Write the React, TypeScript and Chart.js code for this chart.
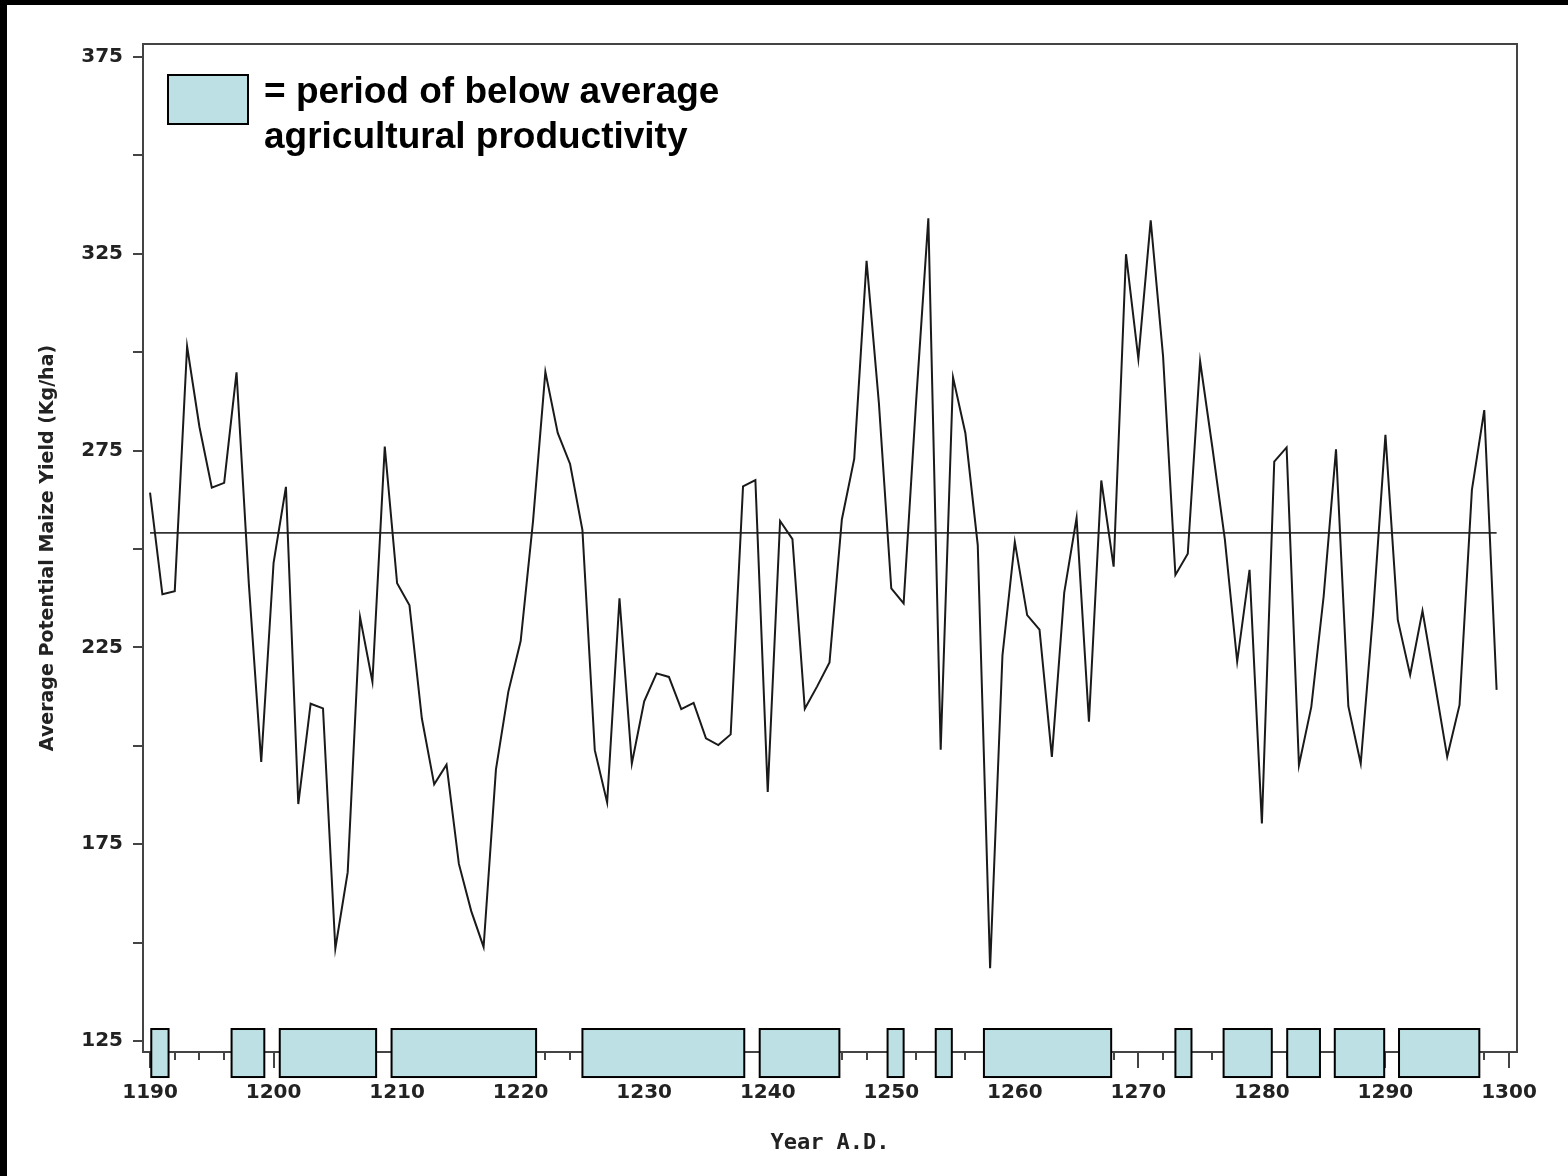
import React, { useEffect, useRef } from "react";
import { Chart, registerables } from "chart.js";

Chart.register(...registerables);

// ---- data ----
const firstYear = 1190;
const yields = [
  264.3, 238.5, 239.3, 301.5, 281, 265.6, 266.8, 294.9, 241, 195.9,
  246.5, 265.8, 185.2, 210.7, 209.5, 148.5, 167.9, 232.7, 216.3, 276.0,
  241.3, 235.7, 207, 190.2, 195.2, 170, 158, 148.9, 194, 213.7,
  226.6, 257, 295.0, 279.5, 271.6, 254.8, 198.9, 185.6, 237.5, 195.5,
  211.3, 218.4, 217.5, 209.3, 210.9, 201.9, 200.2, 202.9, 265.9, 267.5,
  188.3, 257.1, 252.5, 209.4, 215.1, 221.2, 257.5, 272.9, 323.2, 287,
  240.0, 236.2, 287, 334, 199, 293.6, 279.4, 251, 143.5, 223,
  251.8, 233.2, 229.5, 197.2, 238.9, 257.9, 206.1, 267.4, 245.5, 324.9,
  298.3, 333.5, 299, 243.4, 248.8, 297.7, 275.6, 252.5, 221.4, 244.7,
  180.3, 272.2, 275.8, 195.1, 209.9, 238, 275.3, 210, 195.5, 233.5,
  279.0, 232, 218.0, 234.3, 215.9, 197.2, 210.4, 265.0, 285.3, 214.2,
];
const years = yields.map((_, i) => firstYear + i);
const meanYield = 254.1;

// periods of below-average productivity (start / end year)
const periodStart = [1190.1, 1196.6, 1200.5, 1209.55, 1225.0, 1239.35, 1249.7, 1253.6, 1257.5, 1273.0, 1276.9, 1282.05, 1285.9, 1291.1];
const periodEnd = [1191.5, 1199.25, 1208.3, 1221.25, 1238.1, 1245.8, 1251.0, 1254.9, 1267.8, 1274.3, 1280.8, 1284.7, 1289.9, 1297.6];

const xTickValues = [1190, 1200, 1210, 1220, 1230, 1240, 1250, 1260, 1270, 1280, 1290, 1300];
const yTickValues = [125, 150, 175, 200, 225, 250, 275, 300, 325, 350, 375];
const yLabelValues = [125, 175, 225, 275, 325, 375];
const legendLines = ["= period of below average", "agricultural productivity"];
const xTitle = "Year A.D.";
const yTitle = "Average Potential Maize Yield (Kg/ha)";

const minorTickValues: number[] = [];
for (let v = 1190; v <= 1300; v += 2) if (v % 10 !== 0) minorTickValues.push(v);

const BOX_FILL = "#bce0e3";
const AXIS_COLOR = "#444";

const decorPlugin = {
  id: "decor",
  afterDraw(chart: any) {
    const { ctx, chartArea: a, scales } = chart;
    const x = scales.x;
    const y = scales.y;
    ctx.save();
    // frame
    ctx.strokeStyle = AXIS_COLOR;
    ctx.lineWidth = 2;
    ctx.strokeRect(a.left, a.top, a.right - a.left, a.bottom - a.top);
    // minor x ticks
    ctx.beginPath();
    for (const v of minorTickValues) {
      const px = Math.round(x.getPixelForValue(v));
      ctx.moveTo(px, a.bottom);
      ctx.lineTo(px, a.bottom + 8);
    }
    ctx.stroke();
    // period boxes straddling the x axis
    const top = y.getPixelForValue(128.05);
    const bottom = y.getPixelForValue(115.85);
    ctx.fillStyle = BOX_FILL;
    ctx.strokeStyle = "#000";
    ctx.lineWidth = 2;
    periodStart.forEach((s, i) => {
      const l = x.getPixelForValue(s);
      const r = x.getPixelForValue(periodEnd[i]);
      ctx.fillRect(l, top, r - l, bottom - top);
      ctx.strokeRect(l, top, r - l, bottom - top);
    });
    // legend note
    const lx = a.left + 25;
    const ly = a.top + 31;
    ctx.fillRect(lx, ly, 80, 49);
    ctx.strokeRect(lx, ly, 80, 49);
    ctx.fillStyle = "#000";
    ctx.font = "bold 37px 'Liberation Sans', Arial, sans-serif";
    ctx.textBaseline = "middle";
    ctx.textAlign = "left";
    ctx.fillText(legendLines[0], lx + 96, ly + 18);
    ctx.fillText(legendLines[1], lx + 96, ly + 63);
    ctx.restore();
  },
};

export default function App() {
  const ref = useRef<HTMLCanvasElement | null>(null);
  useEffect(() => {
    if (!ref.current) return;
    const tickFont = { family: "'DejaVu Sans', sans-serif", weight: "bold" as const, size: 20 };
    const chart = new Chart(ref.current, {
      type: "line",
      data: {
        datasets: [
          {
            data: years.map((yr, i) => ({ x: yr, y: yields[i] })),
            borderColor: "#1a1a1a",
            borderWidth: 2,
            pointRadius: 0,
            tension: 0,
          },
          {
            data: [
              { x: years[0], y: meanYield },
              { x: years[years.length - 1], y: meanYield },
            ],
            borderColor: "#333",
            borderWidth: 1.6,
            pointRadius: 0,
          },
        ],
      },
      options: {
        animation: false,
        responsive: false,
        layout: { padding: { top: 39, right: 51, left: 0, bottom: 0 } },
        plugins: { legend: { display: false }, tooltip: { enabled: false } },
        scales: {
          x: {
            type: "linear",
            min: 1189.43,
            max: 1300.65,
            afterBuildTicks: (s: any) => {
              s.ticks = xTickValues.map((v) => ({ value: v }));
            },
            afterFit: (s: any) => {
              s.height = 124;
            },
            grid: { drawOnChartArea: false, tickLength: 16, color: AXIS_COLOR, lineWidth: 2 },
            border: { display: false },
            ticks: {
              font: tickFont,
              color: "#222",
              padding: 13,
              maxRotation: 0,
              autoSkip: false,
              callback: (v: any) => String(v),
            },
            title: {
              display: true,
              text: xTitle,
              color: "#222",
              font: { family: "'DejaVu Sans Mono', monospace", weight: "bold", size: 22 },
              padding: { top: 0, bottom: 20 },
            },
          },
          y: {
            min: 122.21,
            max: 378.3,
            afterBuildTicks: (s: any) => {
              s.ticks = yTickValues.map((v) => ({ value: v }));
            },
            afterFit: (s: any) => {
              s.width = 136;
            },
            grid: { drawOnChartArea: false, tickLength: 10, color: AXIS_COLOR, lineWidth: 2 },
            border: { display: false },
            ticks: {
              font: tickFont,
              color: "#222",
              padding: 10,
              autoSkip: false,
              callback: (v: any) => (yLabelValues.includes(v) ? String(v) : ""),
            },
            title: {
              display: true,
              text: yTitle,
              color: "#222",
              font: { family: "'DejaVu Sans', sans-serif", weight: "bold", size: 19 },
              padding: { top: 30, bottom: 0 },
            },
          },
        },
      },
      plugins: [decorPlugin],
    });
    return () => chart.destroy();
  }, []);

  return (
    <div style={{ position: "fixed", left: 0, top: 0, width: 1568, height: 1176, background: "#000" }}>
      <div style={{ position: "absolute", left: 7, top: 5, width: 1561, height: 1171, background: "#fff" }}>
        <canvas ref={ref} width={1561} height={1171} style={{ display: "block" }} />
      </div>
    </div>
  );
}
